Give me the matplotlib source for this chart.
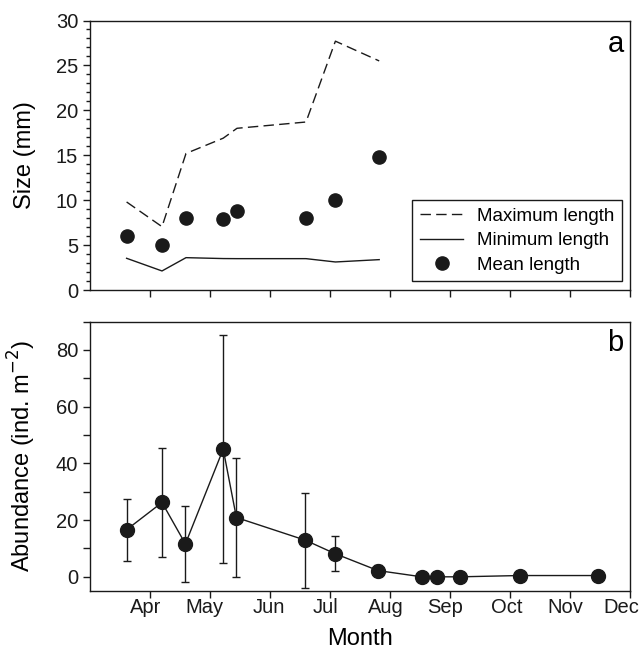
import matplotlib
matplotlib.use("Agg")
import matplotlib.pyplot as plt
from matplotlib.ticker import MultipleLocator, FixedLocator, NullFormatter, FixedFormatter

plt.rcParams['font.family'] = ['Liberation Sans', 'DejaVu Sans']

# ---- data (x in month units: 3 = 1 Mar, 4 = 1 Apr, ...) ----
size_dates = [3.61, 4.20, 4.60, 5.22, 5.45, 6.60, 7.09, 7.82]
max_length = [9.8, 7.05, 15.2, 16.9, 18.0, 18.7, 27.7, 25.5]
min_length = [3.53, 2.12, 3.60, 3.50, 3.49, 3.49, 3.12, 3.38]
mean_length = [6.05, 5.01, 7.98, 7.87, 8.76, 7.98, 9.99, 14.77]

abund_dates = [3.61, 4.20, 4.59, 5.22, 5.44, 6.59, 7.08, 7.80, 8.53, 8.78, 9.17, 10.16, 11.46]
abundance = [16.6, 26.2, 11.6, 45.0, 20.9, 12.9, 8.2, 2.2, 0.0, 0.0, 0.0, 0.45, 0.45]
abund_err = [11.0, 19.3, 13.3, 40.2, 21.0, 16.7, 6.3, 1.8, 0.0, 0.0, 0.0, 0.0, 0.0]

month_ticks = [4, 5, 6, 7, 8, 9, 10, 11, 12]
month_labels = ['Apr', 'May', 'Jun', 'Jul', 'Aug', 'Sep', 'Oct', 'Nov', 'Dec']
label_shift = [-0.08, -0.09, -0.02, -0.07, -0.07, -0.08, -0.05, -0.08, -0.14]

col = '#1a1a1a'
fig = plt.figure(figsize=(6.4, 6.63), dpi=100)
ax1 = fig.add_axes([90 / 640, 1 - 290 / 663, 540 / 640, 269.5 / 663])
ax2 = fig.add_axes([90 / 640, 1 - 591 / 663, 540 / 640, 269.5 / 663])

# ---- panel a ----
ax1.plot(size_dates, max_length, color=col, lw=1.0, linestyle=(0, (7.5, 3.8)),
         label='Maximum length')
ax1.plot(size_dates, min_length, color=col, lw=1.0, label='Minimum length')
ax1.plot(size_dates, mean_length, 'o', color=col, ms=9.5, linestyle='none',
         label='Mean length')
ax1.set_xlim(3, 12)
ax1.set_ylim(0, 30)
ax1.yaxis.set_major_locator(MultipleLocator(5))
ax1.yaxis.set_minor_locator(MultipleLocator(1))
ax1.xaxis.set_major_locator(FixedLocator(month_ticks))
ax1.xaxis.set_major_formatter(NullFormatter())
ax1.set_ylabel('Size (mm)', fontsize=17)
ax1.yaxis.set_label_coords(-0.100, 0.5)
ax1.text(0.988, 0.884, 'a', transform=ax1.transAxes, ha='right', va='baseline', fontsize=21)
leg = ax1.legend(loc='lower right', bbox_to_anchor=(1 - 8 / 540, 9 / 269.5),
                 borderaxespad=0, fontsize=13.5,
                 frameon=True, fancybox=False, edgecolor=col, framealpha=1,
                 handlelength=2.3, borderpad=0.4, labelspacing=0.38,
                 handletextpad=0.75)
leg.get_frame().set_linewidth(1.0)

# ---- panel b ----
ax2.errorbar(abund_dates, abundance, yerr=abund_err, fmt='-o', color=col,
             ms=10, lw=1.0, elinewidth=1.0, capsize=3, capthick=1.0)
ax2.set_xlim(3, 12)
ax2.set_ylim(-5, 90)
ax2.yaxis.set_major_locator(MultipleLocator(20))
ax2.yaxis.set_minor_locator(MultipleLocator(10))
ax2.xaxis.set_major_locator(FixedLocator(month_ticks))
ax2.xaxis.set_major_formatter(NullFormatter())
ax2.xaxis.set_minor_locator(FixedLocator([m + s for m, s in zip(month_ticks, label_shift)]))
ax2.xaxis.set_minor_formatter(FixedFormatter(month_labels))
ax2.set_ylabel('Abundance (ind. m$^{-2}$)', fontsize=17)
ax2.yaxis.set_label_coords(-0.096, 0.5)
ax2.set_xlabel('Month', fontsize=17, labelpad=8)
ax2.text(0.988, 0.889, 'b', transform=ax2.transAxes, ha='right', va='baseline', fontsize=21)

for ax in (ax1, ax2):
    for s in ax.spines.values():
        s.set_linewidth(1.0)
        s.set_color(col)
    ax.tick_params(axis='both', which='major', direction='out', length=5,
                   width=1.0, colors=col, labelsize=14.5, labelcolor=col)
    ax.tick_params(axis='y', which='minor', direction='out', length=3, width=1.0,
                   colors=col)
ax2.tick_params(axis='y', which='minor', length=5)
ax2.tick_params(axis='x', which='minor', length=0, labelsize=14.5, pad=5,
                labelcolor=col)

fig.savefig('out.png', dpi=100)
